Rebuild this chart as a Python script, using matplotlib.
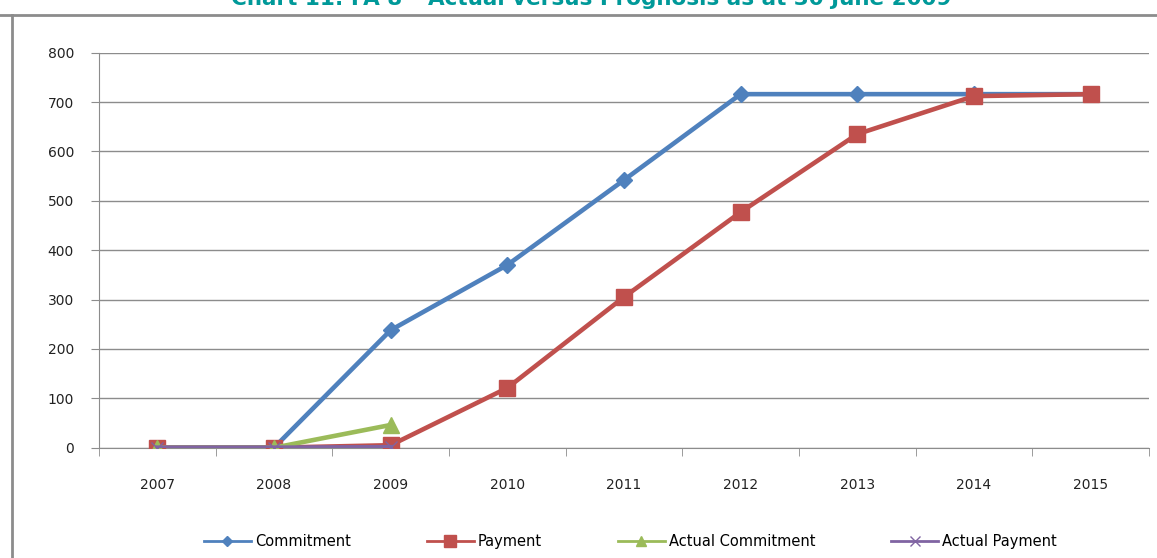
import matplotlib.pyplot as plt
from matplotlib.lines import Line2D

years = ['2007', '2008', '2009', '2010', '2011', '2012', '2013', '2014', '2015']
commitment = [0, 0, 238, 370, 542, 716, 716, 716, 716]
payment = [0, 0, 5, 121, 305, 477, 635, 712, 716]
actual_commitment = [0, 0, 46]
actual_payment = [0, 0, 1]

plt.rcParams['font.family'] = ['DejaVu Sans']

fig = plt.figure(figsize=(11.57, 5.58), dpi=100)
ax = fig.add_axes([0.0856, 0.1977, 0.9074, 0.7079])

x = list(range(len(years)))
ax.plot(x, commitment, color='#4F81BD', lw=3.3, marker='D', ms=8, label='Commitment', zorder=3)
ax.plot(x, payment, color='#C0504D', lw=3.3, marker='s', ms=12, label='Payment', zorder=4)
ax.plot(x[:3], actual_commitment, color='#9BBB59', lw=3.3, marker='^', ms=11, label='Actual Commitment', zorder=5)
ax.plot(x[:3], actual_payment, color='#8064A2', lw=3.3, marker='x', ms=9, mew=1, label='Actual Payment', zorder=6)

ax.set_xlim(-0.5, 8.5)
ax.set_ylim(0, 800)
ax.set_yticks(range(0, 801, 100))
ax.set_xticks(x)
ax.set_xticklabels(years)
ax.set_xticks([i - 0.5 for i in range(len(years) + 1)], minor=True)
ax.grid(axis='y', color='#8c8c8c', lw=1)
ax.set_axisbelow(True)
for s in ['top', 'right']:
    ax.spines[s].set_visible(False)
for s in ['left', 'bottom']:
    ax.spines[s].set_color('#8c8c8c')
ax.tick_params(axis='x', which='major', length=0, pad=22, labelsize=10, colors='#222222')
ax.tick_params(axis='x', which='minor', length=6, color='#8c8c8c', direction='out')
ax.tick_params(axis='y', length=6, color='#8c8c8c', pad=12, labelsize=10, colors='#222222')

handles = [
    Line2D([], [], color='#4F81BD', lw=2, marker='D', ms=5),
    Line2D([], [], color='#C0504D', lw=2, marker='s', ms=8),
    Line2D([], [], color='#9BBB59', lw=2, marker='^', ms=7),
    Line2D([], [], color='#8064A2', lw=2, marker='x', ms=7, mew=1),
]
fig.legend(handles, ['Commitment', 'Payment', 'Actual Commitment', 'Actual Payment'],
           loc='center', bbox_to_anchor=(0.545, 0.03), ncol=4, frameon=False,
           fontsize=10.5, columnspacing=5.2, handlelength=3.2, handletextpad=0.3)

# chart frame and title (clipped at the top edge as in the source)
fig.add_artist(Line2D([0, 1], [1 - 15 / 558] * 2, color='#8c8c8c', lw=2))
fig.add_artist(Line2D([11.5 / 1157] * 2, [0, 1 - 15 / 558], color='#8c8c8c', lw=2))
fig.text(0.511, 1 - 5 / 558, 'Chart 11: FA 8 \u2013 Actual versus Prognosis as at 30 June 2009',
         ha='center', va='baseline', fontsize=15.5, fontweight='bold', color='#009999')

fig.savefig('out.png', dpi=100)
